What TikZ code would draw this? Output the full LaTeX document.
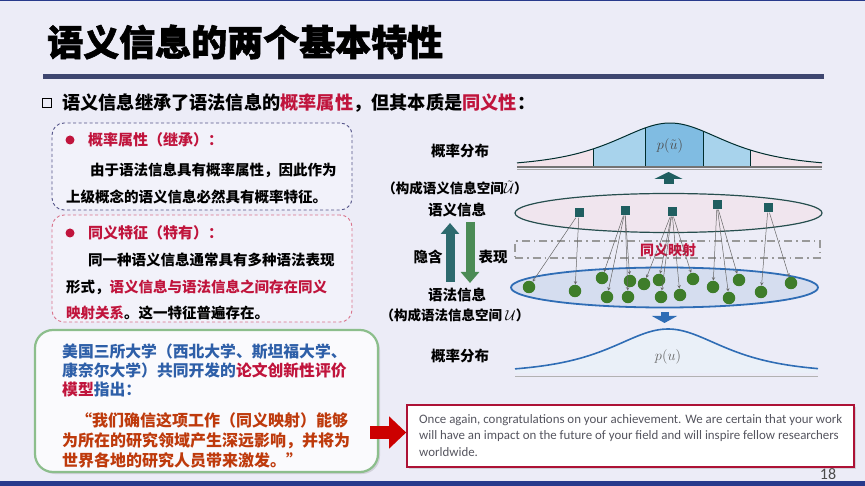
\documentclass[tikz,border=0pt]{standalone}
\usepackage[no-math]{fontspec}
\setmainfont{Noto Sans CJK SC}
\newfontfamily\heavyfont[BoldFeatures={FakeBold=1.6}]{Noto Sans CJK SC}
\newfontfamily\enfont{Carlito}
\usetikzlibrary{shapes.geometric, arrows, arrows.meta, shadows}

\definecolor{bgcol}{RGB}{236,236,247}
\definecolor{rulecol}{RGB}{62,70,112}
\definecolor{bandcol}{RGB}{40,58,140}
\definecolor{redtxt}{RGB}{192,20,60}
\definecolor{bluetxt}{RGB}{46,95,168}
\definecolor{quotetxt}{RGB}{190,58,12}
\definecolor{boxfill}{RGB}{242,242,250}
\definecolor{greenedge}{RGB}{140,190,140}
\definecolor{sqcol}{RGB}{31,94,96}
\definecolor{dotcol}{RGB}{62,125,42}
\definecolor{ellblue}{RGB}{47,109,181}
\definecolor{upcol}{RGB}{45,106,110}
\definecolor{downcol}{RGB}{75,139,85}
\definecolor{tailpink}{RGB}{242,226,234}
\definecolor{midblue}{RGB}{168,211,236}
\definecolor{topblue}{RGB}{128,188,226}
\definecolor{engray}{RGB}{85,85,95}

\tikzstyle{lbl} = [inner sep=0pt, font=\bfseries\fontsize{14.5}{16}\selectfont]
\tikzstyle{para} = [inner sep=0pt, anchor=north west, align=left]
\tikzstyle{dashbox} = [rectangle, rounded corners=12pt, line width=0.9pt, dash pattern=on 3pt off 2.5pt, fill=boxfill]
\tikzstyle{sem} = [rectangle, fill=sqcol, minimum size=9pt, inner sep=0pt]
\tikzstyle{syn} = [circle, fill=dotcol, minimum size=12.5pt, inner sep=0pt]
\tikzstyle{map} = [->, >=stealth, draw=black!60, line width=0.5pt]
\tikzstyle{redbullet} = [circle, fill=redtxt, minimum size=9pt, inner sep=0pt]

\begin{document}
\begin{tikzpicture}[x=1pt, y=-1pt]

\useasboundingbox (0,0) rectangle (865,486);
\fill[bgcol] (0,0) rectangle (865,486);
\fill[bandcol] (0,0) rectangle (865,1.5);
\fill[bandcol] (0,481) rectangle (865,486);
\fill[rulecol] (43,74) rectangle (824,79.5);

%% LEFT SIDE

\node (title) [anchor=west, inner sep=0pt, font=\heavyfont\bfseries\fontsize{36}{40}\selectfont] at (47,42) {语义信息的两个基本特性};

\node (sqbullet) [rectangle, draw=black, line width=1.5pt, minimum size=9pt, inner sep=0pt] at (47,103) {};
\node (intro) [anchor=west, inner sep=0pt, font=\bfseries\fontsize{18.2}{20}\selectfont] at (62,103) {语义信息继承了语法信息的\textcolor{redtxt}{概率属性}，但其本质是\textcolor{redtxt}{同义性}：};

\node (box1) [dashbox, draw=black!40!blue!35!gray, minimum width=300pt, minimum height=87pt] at (202,166.5) {};
\node (dot1) [redbullet] at (70,140) {};
\node (head1) [anchor=west, inner sep=0pt, text=redtxt, font=\bfseries\fontsize{15}{17}\selectfont] at (88,140) {概率属性（继承）：};
\node (body1) [para, font=\bfseries\fontsize{14.5}{27}\selectfont] at (66,163) {\hspace*{24pt}由于语法信息具有概率属性，因此作为\\上级概念的语义信息必然具有概率特征。};

\node (box2) [dashbox, draw=redtxt!60, minimum width=300pt, minimum height=107pt] at (202,268.5) {};
\node (dot2) [redbullet] at (70,233) {};
\node (head2) [anchor=west, inner sep=0pt, text=redtxt, font=\bfseries\fontsize{15}{17}\selectfont] at (88,233) {同义特征（特有）：};
\node (body2) [para, font=\bfseries\fontsize{14.5}{26.5}\selectfont] at (66,253) {\hspace*{22pt}同一种语义信息通常具有多种语法表现\\形式，\textcolor{redtxt}{语义信息与语法信息之间存在同义}\\\textcolor{redtxt}{映射关系}。这一特征普遍存在。};

\node (box3) [rectangle, rounded corners=18pt, draw=greenedge, line width=2.2pt, fill=white!60!boxfill, minimum width=343pt, minimum height=142pt, drop shadow={opacity=0.25, shadow xshift=2pt, shadow yshift=-2pt}] at (206.5,401) {};
\node (uni) [para, text=bluetxt, font=\bfseries\fontsize{15.8}{19}\selectfont] at (62,344) {美国三所大学（西北大学、斯坦福大学、\\康奈尔大学）共同开发的\textcolor{redtxt}{论文创新性评价}\\\textcolor{redtxt}{模型}指出：};
\node (quote) [para, text=quotetxt, font=\bfseries\fontsize{16}{20}\selectfont] at (62,412) {\hspace*{14pt}“我们确信这项工作（同义映射）能够\\为所在的研究领域产生深远影响，并将为\\世界各地的研究人员带来激发。”};

\node (box4) [rectangle, draw=redtxt!90!black, line width=1.6pt, fill=white, minimum width=447pt, minimum height=62pt, drop shadow={opacity=0.25, shadow xshift=1.5pt, shadow yshift=-1.5pt}] at (630.5,436) {};
\node (letter) [para, text=engray, font=\enfont\fontsize{12.9}{16.5}\selectfont] at (419,414) {Once again, congratulations on your achievement. We are certain that your work\\will have an impact on the future of your field and will inspire fellow researchers\\worldwide.};
\coordinate (redtail) at (370,432.5);
\draw [line width=13pt, draw=red!80!black, -{Triangle[width=31pt,length=17pt]}] (redtail) -- (redtail -| box4.west);

\node (pageno) [inner sep=0pt, text=black!70, font=\enfont\fontsize{16}{17}\selectfont] at (828,474) {18};

%% RIGHT SIDE

% top distribution
\fill[tailpink] (517,167) -- plot[domain=517:593, samples=30] (\x,{167-44/cosh((\x-670)/50)}) -- (593,167) -- cycle;
\fill[midblue] (593,167) -- plot[domain=593:645, samples=20] (\x,{167-44/cosh((\x-670)/50)}) -- (645,167) -- cycle;
\fill[topblue] (645,167) -- plot[domain=645:703, samples=20] (\x,{167-44/cosh((\x-670)/50)}) -- (703,167) -- cycle;
\fill[midblue] (703,167) -- plot[domain=703:750, samples=20] (\x,{167-44/cosh((\x-670)/50)}) -- (750,167) -- cycle;
\fill[tailpink] (750,167) -- plot[domain=750:822, samples=30] (\x,{167-44/cosh((\x-670)/50)}) -- (822,167) -- cycle;
\draw[black!65!teal, line width=1pt] plot[domain=517:822, samples=100] (\x,{167-44/cosh((\x-670)/50)});
\foreach \v in {593,645,703,750}
  \draw[black!65!teal, line width=1pt] (\v,167) -- (\v,{167-44/cosh((\v-670)/50)});
\draw[black!55, line width=1.2pt] (517,167) -- (822,167);
\draw[black!35, line width=0.8pt] (517,169.5) -- (822,169.5);
\node (ptop) [inner sep=0pt, text=black!70, font=\fontsize{14}{15}\selectfont] at (670,146) {$p(\tilde{u})$};

% bottom distribution
\fill[ellblue!10] (515,373) -- plot[domain=515:818, samples=100] (\x,{373-44/cosh((\x-668)/50)}) -- (818,373) -- cycle;
\draw[ellblue, line width=1.6pt] plot[domain=515:818, samples=100] (\x,{373-44/cosh((\x-668)/50)});
\draw[black!30, line width=0.8pt] (515,376.5) -- (818,376.5);
\node (pbot) [inner sep=0pt, text=black!60, font=\fontsize{14}{15}\selectfont] at (668,357) {$p(u)$};

% labels
\node (prob1) [lbl] at (460,151) {概率分布};
\node (semspace) [lbl, font=\bfseries\fontsize{13.5}{15}\selectfont] at (455,188) {（构成语义信息空间$\tilde{\mathcal{U}}$）};
\node (semlbl) [lbl] at (457,210) {语义信息};
\node (implicit) [lbl] at (428,257) {隐含};
\node (express) [lbl] at (493,257) {表现};
\node (synlbl) [lbl] at (457,295) {语法信息};
\node (synspace) [lbl, font=\bfseries\fontsize{13.5}{15}\selectfont] at (455,315) {（构成语法信息空间 $\mathcal{U}$）};
\node (prob2) [lbl] at (460,356) {概率分布};

% spaces
\node (semell) [ellipse, draw=black!55!teal!70!gray, line width=1.2pt, fill=tailpink!70!bgcol, minimum width=307pt, minimum height=39pt] at (668.5,213) {};
\node (mapbox) [rectangle, draw=black!40, line width=1.1pt, dash pattern=on 8pt off 4pt on 1.5pt off 4pt, minimum width=305pt, minimum height=17pt] at (667.5,249.5) {};
\node (maplbl) [lbl, text=redtxt, font=\bfseries\fontsize{14}{16}\selectfont] at (668,250) {同义映射};
\node (synell) [ellipse, draw=ellblue, line width=1.8pt, fill=ellblue!12!bgcol, minimum width=307pt, minimum height=40pt] at (664.5,287.5) {};

%% NODES

\node (s1) [sem] at (579,213) {};
\node (s2) [sem] at (625,211) {};
\node (s3) [sem] at (672,212) {};
\node (s4) [sem] at (717,205) {};
\node (s5) [sem] at (768,208) {};

\node (d1) [syn] at (529,287) {};
\node (d2) [syn] at (575,291) {};
\node (d3) [syn] at (602,278) {};
\node (d4) [syn] at (607,297) {};
\node (d5) [syn] at (628,297) {};
\node (d6) [syn] at (630,281) {};
\node (d7) [syn] at (644,284) {};
\node (d8) [syn] at (659,280) {};
\node (d9) [syn] at (661,297) {};
\node (d10) [syn] at (680,295) {};
\node (d11) [syn] at (693,279) {};
\node (d12) [syn] at (713,287) {};
\node (d13) [syn] at (729,298) {};
\node (d14) [syn] at (739,280) {};
\node (d15) [syn] at (761,292) {};
\node (d16) [syn] at (791,283) {};

%% ARROWS

\draw [map] (s1) -- (d1);
\draw [map] (s1) -- (d2);
\draw [map] (s2) -- (d3);
\draw [map] (s2) -- (d4);
\draw [map] (s2) -- (d5);
\draw [map] (s2) -- (d6);
\draw [map] (s3) -- (d7);
\draw [map] (s3) -- (d8);
\draw [map] (s3) -- (d9);
\draw [map] (s3) -- (d10);
\draw [map] (s3) -- (d11);
\draw [map] (s4) -- (d12);
\draw [map] (s4) -- (d13);
\draw [map] (s4) -- (d14);
\draw [map] (s5) -- (d15);
\draw [map] (s5) -- (d16);

\coordinate (upbot) at (450,282);
\coordinate (uptop) at (450,223);
\coordinate (downtop) at (470,222);
\coordinate (downbot) at (470,283);
\draw [line width=9pt, draw=upcol, -{Triangle[width=18pt,length=11pt]}] (upbot) -- (uptop);
\draw [line width=9pt, draw=downcol, -{Triangle[width=18pt,length=11pt]}] (downtop) -- (downbot);

\draw [line width=10pt, draw=sqcol, -{Triangle[width=28pt,length=7pt]}] (semell.north |- 0,184) -- (semell.north |- 0,172);
\draw [line width=8pt, draw=ellblue, -{Triangle[width=25pt,length=7pt]}] (synell.south |- 0,312) -- (synell.south |- 0,323);

\end{tikzpicture}
\end{document}
